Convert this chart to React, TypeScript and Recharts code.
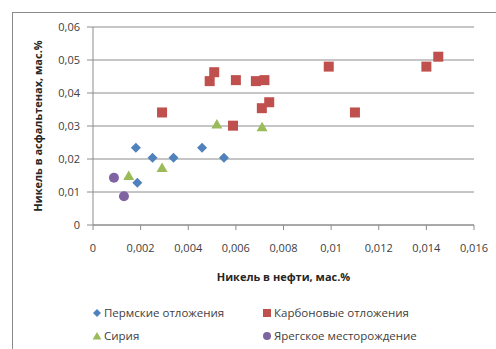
import React from 'react';
import { ScatterChart, Scatter, XAxis, YAxis, CartesianGrid, Legend } from 'recharts';

// Никель в нефти / в асфальтенах, мас.%
const permX = [0.0018, 0.00186, 0.0025, 0.00338, 0.00458, 0.0055];
const permY = [0.0234, 0.0128, 0.0204, 0.0204, 0.0234, 0.0204];

const carbX = [0.0029, 0.0049, 0.00509, 0.00588, 0.006, 0.00684, 0.0072, 0.00709, 0.0074, 0.0099, 0.011, 0.014, 0.0145];
const carbY = [0.0341, 0.0436, 0.0463, 0.0301, 0.0439, 0.0436, 0.0439, 0.0354, 0.0372, 0.048, 0.0341, 0.048, 0.051];

const syriaX = [0.0015, 0.0029, 0.0052, 0.0071];
const syriaY = [0.015, 0.0174, 0.0306, 0.0298];

const yaregX = [0.00088, 0.0013];
const yaregY = [0.0143, 0.0087];

const xTicks = [0, 0.002, 0.004, 0.006, 0.008, 0.01, 0.012, 0.014, 0.016];
const yTicks = [0, 0.01, 0.02, 0.03, 0.04, 0.05, 0.06];

const zip = (xs: number[], ys: number[]) => xs.map((x, i) => ({ x, y: ys[i] }));

type Kind = 'diamond' | 'square' | 'triangle' | 'circle';

const series: { name: string; color: string; kind: Kind; data: { x: number; y: number }[] }[] = [
  { name: 'Пермские отложения', color: '#4F81BD', kind: 'diamond', data: zip(permX, permY) },
  { name: 'Карбоновые отложения', color: '#C0504D', kind: 'square', data: zip(carbX, carbY) },
  { name: 'Сирия', color: '#9BBB59', kind: 'triangle', data: zip(syriaX, syriaY) },
  { name: 'Ярегское месторождение', color: '#8064A2', kind: 'circle', data: zip(yaregX, yaregY) },
];

const FONT = '"Open Sans", sans-serif';
const fmt = (v: number) => String(v).replace('.', ',');

function Marker({ kind, color, cx, cy, s = 1 }: { kind: Kind; color: string; cx: number; cy: number; s?: number }) {
  if (kind === 'diamond') {
    const h = 5 * s;
    return <polygon points={`${cx},${cy - h} ${cx + h},${cy} ${cx},${cy + h} ${cx - h},${cy}`} fill={color} />;
  }
  if (kind === 'square') {
    const h = 5 * s;
    return <rect x={cx - h} y={cy - h} width={2 * h} height={2 * h} fill={color} />;
  }
  if (kind === 'triangle') {
    const w = 5.5 * s;
    return <polygon points={`${cx},${cy - 5 * s} ${cx + w},${cy + 4.5 * s} ${cx - w},${cy + 4.5 * s}`} fill={color} />;
  }
  return <circle cx={cx} cy={cy} r={5 * s} fill={color} />;
}

function LegendBox() {
  const pos = [
    { left: 92, top: 10 },
    { left: 262, top: 10 },
    { left: 92, top: 33 },
    { left: 262, top: 33 },
  ];
  return (
    <div style={{ position: 'relative', height: 54, width: 474, fontFamily: FONT, fontSize: 11.5, color: '#404040' }}>
      {series.map((s, i) => (
        <div key={s.name} style={{ position: 'absolute', left: pos[i].left, top: pos[i].top, display: 'flex', alignItems: 'center', whiteSpace: 'nowrap' }}>
          <svg width={10} height={12} style={{ marginRight: 2 }}>
            <Marker kind={s.kind} color={s.color} cx={5} cy={6} s={0.8} />
          </svg>
          <span>{s.name}</span>
        </div>
      ))}
    </div>
  );
}

export default function App() {
  return (
    <div style={{ position: 'absolute', left: 0, top: 0, width: 496, height: 349, background: '#fff', overflow: 'hidden' }}>
      <div style={{ position: 'absolute', left: 12, top: 12, right: -2, bottom: -2, borderTop: '1px solid #8a8a8a', borderLeft: '1px solid #8a8a8a' }} />
      <ScatterChart width={496} height={349} margin={{ top: 27, right: 22, bottom: 0, left: 0 }}>
        <CartesianGrid vertical={false} stroke="#8c8c8c" strokeWidth={1} />
        <XAxis
          type="number"
          dataKey="x"
          domain={[0, 0.016]}
          ticks={xTicks}
          tickFormatter={fmt}
          height={70}
          stroke="#8c8c8c"
          tickSize={5}
          tickMargin={14}
          tick={{ fill: '#404040', fontSize: 11, fontFamily: FONT }}
          label={{ value: 'Никель в нефти, мас.%', position: 'insideBottom', offset: 14, fill: '#262626', fontSize: 11, fontWeight: 'bold', fontFamily: FONT }}
        />
        <YAxis
          type="number"
          dataKey="y"
          domain={[0, 0.06]}
          ticks={yTicks}
          tickFormatter={fmt}
          width={93}
          stroke="#8c8c8c"
          tickSize={6}
          tickMargin={7}
          tick={{ fill: '#404040', fontSize: 11, fontFamily: FONT }}
          label={{ value: 'Никель в асфальтенах,  мас.%', angle: -90, position: 'center', dx: -8, fill: '#262626', fontSize: 11, fontWeight: 'bold', fontFamily: FONT }}
        />
        <Legend verticalAlign="bottom" align="left" content={() => <LegendBox />} />
        {series.map((s) => (
          <Scatter
            key={s.name}
            name={s.name}
            data={s.data}
            fill={s.color}
            isAnimationActive={false}
            shape={(p: any) => <Marker kind={s.kind} color={s.color} cx={p.cx} cy={p.cy} />}
          />
        ))}
      </ScatterChart>
    </div>
  );
}
